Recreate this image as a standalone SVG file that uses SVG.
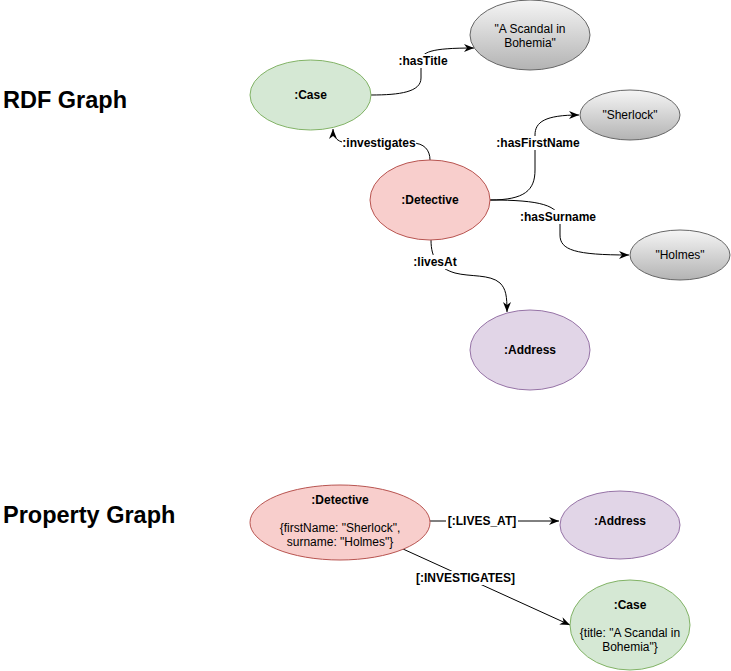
<svg xmlns="http://www.w3.org/2000/svg" width="731" height="671" viewBox="0 0 731 671">
<style>
text{font-family:"Liberation Sans",Arial,sans-serif;font-size:12px;fill:#000;text-anchor:middle}
.b{font-weight:bold}
.title{font-size:23.5px;font-weight:bold;text-anchor:start}
.green{fill:#d5e8d4;stroke:#82b366;stroke-width:1}
.red{fill:#f8cecc;stroke:#b85450;stroke-width:1}
.purple{fill:#e1d5e7;stroke:#9673a6;stroke-width:1}
.gray{fill:url(#grayGrad);stroke:#666666;stroke-width:1}
.edge{fill:none;stroke:#000;stroke-width:1;marker-end:url(#arr)}
.lbg{fill:#fff;stroke:none}
</style>
<defs>
<linearGradient id="grayGrad" x1="0" y1="0" x2="0" y2="1">
<stop offset="0" stop-color="#f5f5f5"/>
<stop offset="1" stop-color="#b3b3b3"/>
</linearGradient>
<marker id="arr" viewBox="0 0 10 10" refX="10" refY="5" markerWidth="10" markerHeight="10" markerUnits="userSpaceOnUse" orient="auto">
<path d="M0,1 L10,5 L0,9 L3,5 z" fill="#000"/>
</marker>
</defs>
<rect width="731" height="671" fill="#fff"/>

<g id="titles">
<text class="title" x="3" y="108">RDF Graph</text>
<text class="title" x="3" y="523">Property Graph</text>
</g>

<g id="connectors">
<path class="edge" d="M371,95 C400,95 421,92 421,78 L421,62 C421,52 430,48 474,48"/>
<rect class="lbg" x="396" y="54" width="53" height="14"/>
<text class="b" x="423" y="65">:hasTitle</text>

<path class="edge" d="M430,160 C430,150 424,143 412,143 L350,143 C338,143 333,138 333,129"/>
<rect class="lbg" x="342" y="136" width="74" height="14"/>
<text class="b" x="379" y="147">:investigates</text>

<path class="edge" d="M490,200 C525,200 535,190 535,170 L535,135 C535,122 545,115 579,115"/>
<rect class="lbg" x="496" y="136" width="85" height="14"/>
<text class="b" x="538" y="147">:hasFirstName</text>

<path class="edge" d="M490,200 C540,200 560,205 560,222 L560,235 C560,250 575,255 629,255"/>
<rect class="lbg" x="519" y="210" width="78" height="14"/>
<text class="b" x="558" y="221">:hasSurname</text>

<path class="edge" d="M431,240 C431,258 438,268 455,273 C470,277 490,274 500,283 C506,289 507,296 507,312"/>
<rect class="lbg" x="412" y="255" width="46" height="14"/>
<text class="b" x="435" y="266">:livesAt</text>

<path class="edge" d="M430,521 L559,521"/>
<rect class="lbg" x="446" y="514" width="72" height="14"/>
<text class="b" x="482" y="525">[:LIVES_AT]</text>

<path class="edge" d="M403,549 L570,625"/>
<rect class="lbg" x="415" y="571" width="101" height="14"/>
<text class="b" x="465.5" y="582">[:INVESTIGATES]</text>
</g>

<g id="rdf-case">
<ellipse class="green" cx="310.5" cy="95" rx="60.5" ry="35"/>
<text class="b" x="310.5" y="99">:Case</text>
</g>
<g id="rdf-title">
<ellipse class="gray" cx="530" cy="35" rx="60" ry="35"/>
<text x="530" y="33">"A Scandal in</text>
<text x="530" y="47">Bohemia"</text>
</g>
<g id="rdf-sherlock">
<ellipse class="gray" cx="630" cy="115" rx="50" ry="25"/>
<text x="630" y="119">"Sherlock"</text>
</g>
<g id="rdf-holmes">
<ellipse class="gray" cx="680" cy="255" rx="50" ry="25"/>
<text x="680" y="259">"Holmes"</text>
</g>
<g id="rdf-detective">
<ellipse class="red" cx="430" cy="200" rx="60" ry="40"/>
<text class="b" x="430" y="204">:Detective</text>
</g>
<g id="rdf-address">
<ellipse class="purple" cx="530" cy="350" rx="60" ry="40"/>
<text class="b" x="530" y="354">:Address</text>
</g>

<g id="pg-detective">
<ellipse class="red" cx="340" cy="522.5" rx="90" ry="37.5"/>
<text class="b" x="340" y="504">:Detective</text>
<text x="340" y="532">{firstName: "Sherlock",</text>
<text x="340" y="546">surname: "Holmes"}</text>
</g>
<g id="pg-address">
<ellipse class="purple" cx="620" cy="525" rx="60" ry="34"/>
<text class="b" x="620" y="525">:Address</text>
</g>
<g id="pg-case">
<ellipse class="green" cx="630" cy="625" rx="60" ry="45"/>
<text class="b" x="630" y="609">:Case</text>
<text x="630" y="637">{title: "A Scandal in</text>
<text x="630" y="651">Bohemia"}</text>
</g>
</svg>
